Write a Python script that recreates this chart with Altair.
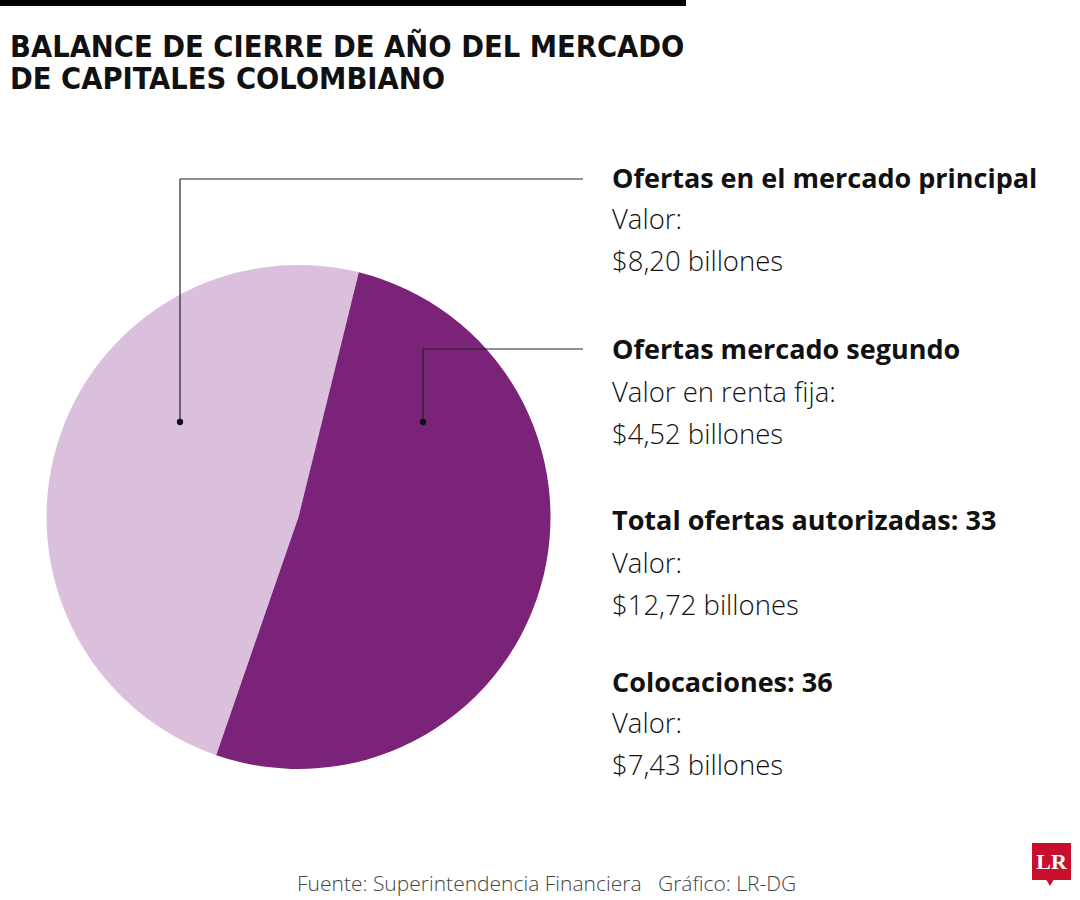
import altair as alt
import pandas as pd
import math

# ---- data ----
title_lines = ["BALANCE DE CIERRE DE AÑO DEL MERCADO", "DE CAPITALES COLOMBIANO"]
categories = ["Ofertas en el mercado principal", "Ofertas mercado segundo"]
counts = [17, 16]                    # numbers printed on the slices
arc_degrees = [174.8, 185.2]         # angular size of each slice as drawn
slice_colors = ["#dbc0dd", "#7a2378"]
label_colors = ["#111111", "#ffffff"]

headings = ["Ofertas en el mercado principal", "Ofertas mercado segundo",
            "Total ofertas autorizadas: 33", "Colocaciones: 36"]
detail_lines = [["Valor:", "$8,20 billones"],
                ["Valor en renta fija:", "$4,52 billones"],
                ["Valor:", "$12,72 billones"],
                ["Valor:", "$7,43 billones"]]
source_text = "Fuente: Superintendencia Financiera"
credit_text = "Gráfico: LR-DG"

# ---- layout (pixels) ----
W, H = 1080, 900
CX, CY, R = 298.5, 517, 252
start_deg = 199.05
TX = 612
heading_y = [180, 351, 522, 684]
detail_y = [[221, 263], [394, 436], [565, 607], [725, 767]]

FONT_BODY = "'Open Sans', Lato, sans-serif"
FONT_TITLE = "'DejaVu Sans Condensed', sans-serif"

pie_df = pd.DataFrame({
    "cat": categories,
    "count": counts,
    "deg": arc_degrees,
    "order": [0, 1],
})

a0 = math.radians(start_deg)
pie = alt.Chart(pie_df).mark_arc(radius=R, x=CX, y=CY, stroke=None).encode(
    theta=alt.Theta("deg:Q", stack=True, scale=alt.Scale(range=[a0, a0 + 2 * math.pi])),
    order=alt.Order("order:Q"),
    color=alt.Color("cat:N", scale=alt.Scale(domain=categories, range=slice_colors), legend=None),
)

X = lambda f="x": alt.X(f + ":Q", scale=None, axis=None)
Y = lambda f="y": alt.Y(f + ":Q", scale=None, axis=None)

# slice count labels
lab_df = pd.DataFrame({"text": [str(c) for c in counts], "x": [179, 426], "y": [508, 508],
                       "cat": categories})
slice_labels = alt.Chart(lab_df).mark_text(font=FONT_BODY, fontWeight="bold", fontSize=27,
                                          align="center", baseline="middle").encode(
    x=X(), y=Y(), text="text:N",
    color=alt.Color("cat:N", scale=alt.Scale(domain=categories, range=label_colors), legend=None),
)

# leader lines
lead_df = pd.DataFrame({
    "x": [180, 180, 423, 423],
    "y": [422, 179, 422, 349],
    "x2": [180, 583, 423, 583],
    "y2": [179, 179, 349, 349],
})
leaders = alt.Chart(lead_df).mark_rule(color="#222222", strokeWidth=1.2).encode(
    x=X(), y=Y(), x2="x2:Q", y2="y2:Q")
dots_df = pd.DataFrame({"x": [180, 423], "y": [422, 422]})
dots = alt.Chart(dots_df).mark_point(filled=True, color="#111111", size=40, opacity=1).encode(
    x=X(), y=Y())

# right-side texts
head_df = pd.DataFrame({"text": headings, "x": [TX] * 4, "y": heading_y})
heads = alt.Chart(head_df).mark_text(font=FONT_BODY, fontWeight="bold", fontSize=27,
                                    align="left", baseline="middle", color="#111111").encode(
    x=X(), y=Y(), text="text:N")

det_rows = []
for lines, ys in zip(detail_lines, detail_y):
    for t, yy in zip(lines, ys):
        det_rows.append({"text": t, "x": TX, "y": yy})
det_df = pd.DataFrame(det_rows)
details = alt.Chart(det_df).mark_text(font=FONT_BODY, fontWeight=300, fontSize=27.5,
                                     align="left", baseline="middle", color="#111111").encode(
    x=X(), y=Y(), text="text:N")

# title
title_df = pd.DataFrame({"text": title_lines, "x": [10, 10], "y": [57, 89]})
title = alt.Chart(title_df).mark_text(font=FONT_TITLE, fontWeight="bold", fontSize=30.5,
                                     align="left", baseline="alphabetic", color="#111111").encode(
    x=X(), y=Y(), text="text:N")

# top bar
bar_df = pd.DataFrame({"x": [0], "x2": [686], "y": [0], "y2": [6]})
topbar = alt.Chart(bar_df).mark_rect(color="#000000").encode(x=X(), x2="x2:Q", y=Y(), y2="y2:Q")

# footer
foot_df = pd.DataFrame({"text": [source_text, credit_text], "x": [297, 658], "y": [885, 885]})
footer = alt.Chart(foot_df).mark_text(font=FONT_BODY, fontWeight=300, fontSize=21,
                                     align="left", baseline="middle", color="#444444").encode(
    x=X(), y=Y(), text="text:N")

# LR logo
logo_df = pd.DataFrame({"x": [1032], "x2": [1071], "y": [843], "y2": [880]})
logo_box = alt.Chart(logo_df).mark_rect(color="#c8102e").encode(x=X(), x2="x2:Q", y=Y(), y2="y2:Q")
tail_df = pd.DataFrame({"x": [1050], "y": [882]})
logo_tail = alt.Chart(tail_df).mark_point(shape="triangle-down", filled=True, color="#c8102e",
                                          size=90, opacity=1).encode(x=X(), y=Y())
lr_df = pd.DataFrame({"text": ["LR"], "x": [1051.5], "y": [862]})
logo_text = alt.Chart(lr_df).mark_text(font="'Liberation Serif', 'DejaVu Serif', serif",
                                       fontWeight="bold", fontSize=22, align="center",
                                       baseline="middle", color="#ffffff").encode(
    x=X(), y=Y(), text="text:N")

chart = alt.layer(
    topbar, title, pie, leaders, dots, slice_labels, heads, details, footer,
    logo_box, logo_tail, logo_text
).properties(
    width=W, height=H, padding=0, autosize=alt.AutoSizeParams(type="none"),
    background="#ffffff",
).configure_view(stroke=None)

chart.save("out.html", embed_options={"renderer": "svg", "actions": False})
